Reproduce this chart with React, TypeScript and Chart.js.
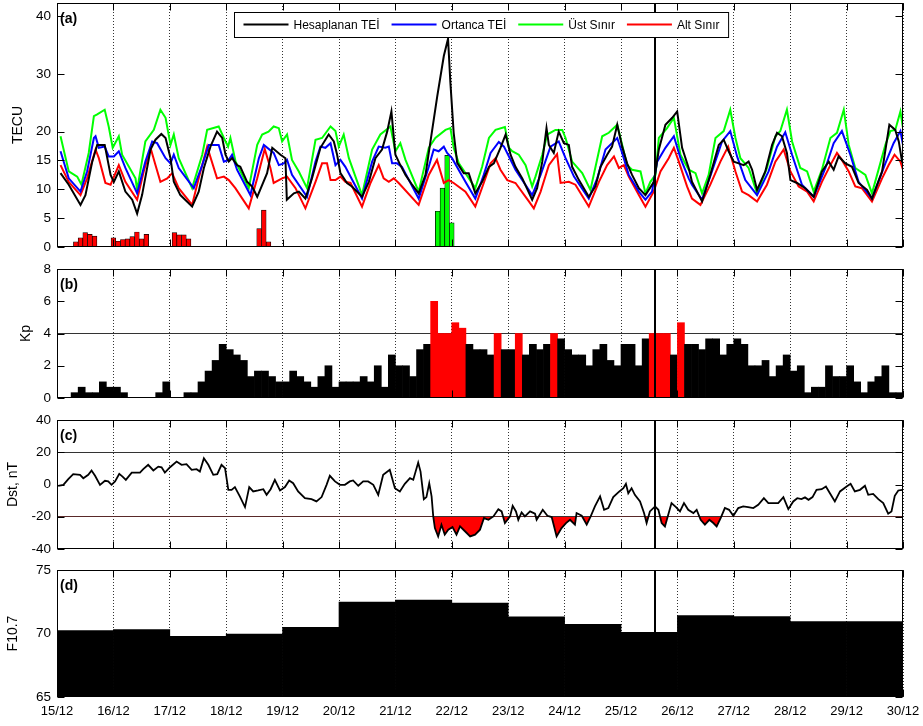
import React, { useEffect, useRef } from 'react';
import { Chart, registerables } from 'chart.js';

Chart.register(...registerables);

const FONT = '"Liberation Sans", Arial, Helvetica, sans-serif';
Chart.defaults.font.family = FONT;
Chart.defaults.color = '#000';

// ---------- shared x axis ----------
const dayLabels = ['15/12', '16/12', '17/12', '18/12', '19/12', '20/12', '21/12', '22/12', '23/12', '24/12', '25/12', '26/12', '27/12', '28/12', '29/12', '30/12'];
const hoursPerDay = 24;
const eventHour = 254.5;

// ---------- panel (a) TEC ----------
const tecTicks = [0, 5, 10, 15, 20, 30, 40];
const tecMax = 42.3;
const calcHours = [1.5, 5, 10, 12.1, 15, 17.1, 20.3, 22.8, 24.2, 26.3, 29.1, 32, 34.1, 36.2, 39.8, 41.9, 44.4, 46.2, 48.3, 49.7, 52.5, 57.5, 60.3, 62.5, 65.3, 68.1, 70.3, 71.7, 73.1, 74.5, 76.6, 78, 80.9, 83, 85.2, 89.4, 91.6, 95.1, 97.2, 97.8, 100.8, 102.9, 105.7, 108.5, 112.1, 115.6, 117.8, 119.2, 120.6, 123.4, 125.5, 129.8, 132.7, 135.5, 138.3, 140.5, 142.3, 144, 146.1, 148.3, 151.1, 153.9, 156.8, 158.2, 161.8, 164.6, 166.4, 167.4, 168.8, 170.3, 173.1, 175.2, 178, 180.9, 183.8, 185.9, 188.7, 190.9, 193, 195.1, 198, 202.2, 204.3, 206.5, 208.3, 209.3, 211.4, 213.5, 215.7, 217.8, 219.2, 222.1, 226.3, 229.1, 231.3, 234.1, 236.2, 238.4, 240.5, 242.6, 244.7, 247.6, 250.4, 254, 256.1, 258.9, 261.8, 263.9, 266, 268.8, 270.2, 274.5, 278, 281.6, 283.7, 285.8, 288, 290.1, 292.2, 294.3, 295.8, 297.9, 301.4, 304.3, 306.4, 308.5, 310.6, 312.1, 314.9, 318.4, 322, 325.5, 328.4, 330.5, 332.6, 335.5, 338.3, 341.1, 344.7, 346.8, 351.1, 354.2, 356.7, 358.2, 359.6, 360];
const calcTec = [12.8, 10.8, 7.3, 9.0, 14.8, 17.7, 17.7, 12.5, 11.3, 13.1, 9.6, 8.2, 5.8, 9.0, 16.9, 18.6, 19.6, 18.9, 15.4, 11.3, 9.0, 7.0, 9.6, 13.7, 17.4, 20.0, 18.9, 16.0, 14.8, 15.4, 14.2, 13.9, 11.3, 10.5, 8.7, 12.8, 17.2, 16.0, 15.4, 8.2, 9.3, 9.6, 8.4, 11.9, 17.2, 19.5, 18.3, 16.0, 12.8, 11.1, 10.5, 8.7, 11.3, 15.4, 16.9, 20.0, 23.5, 16.0, 14.2, 12.5, 10.8, 9.3, 12.5, 16.3, 26.1, 33.1, 36.1, 28.5, 19.8, 14.6, 12.8, 12.8, 9.3, 11.3, 13.9, 14.5, 17.2, 19.5, 16.0, 13.9, 11.9, 8.2, 10.2, 14.8, 20.6, 17.7, 16.3, 20.0, 18.0, 17.7, 13.9, 11.6, 8.7, 10.5, 13.9, 16.0, 17.4, 21.2, 17.4, 14.5, 12.5, 10.2, 9.0, 11.3, 16.9, 21.2, 22.4, 23.5, 17.2, 13.7, 11.3, 7.9, 12.5, 17.7, 18.6, 16.6, 14.8, 14.5, 14.2, 14.8, 13.4, 9.9, 13.1, 17.7, 19.8, 19.2, 16.3, 11.6, 11.1, 10.2, 8.7, 13.1, 14.8, 13.4, 15.7, 14.5, 13.9, 11.1, 9.9, 8.4, 13.1, 21.2, 20.3, 18.3, 14.8, 14.5];

const medHours = [1.5, 5, 10, 12.8, 15.7, 16.4, 17.8, 20.3, 22, 24.2, 26.3, 29.1, 34.1, 37.6, 40.5, 42.6, 46.2, 48.3, 49.7, 51.8, 58.2, 61.8, 64.6, 68.8, 71, 73.1, 74.5, 76.6, 82.3, 85.9, 88, 92.2, 94.4, 96.5, 97.9, 100, 106.4, 110, 112.1, 114.2, 116.4, 118.5, 120.6, 122.7, 129.8, 134.1, 136.9, 139.7, 141.2, 142.6, 144.7, 146.8, 153.9, 158.2, 160.3, 162.4, 164.6, 166, 168.1, 173.8, 178, 181.6, 184.5, 188, 190.2, 195.1, 202.2, 205.8, 210, 213.5, 216.4, 220, 226.3, 229.9, 233.4, 238.4, 240.5, 243.3, 247.6, 250.4, 253.2, 255.4, 258.9, 262.5, 265.3, 268.8, 270.2, 274.5, 278.7, 283, 286.5, 289.4, 292.9, 297.9, 302.8, 306.4, 309.9, 312.8, 317, 322, 327, 330.5, 334, 337.6, 341.1, 346.8, 352.5, 356, 358.9, 360];
const medTec = [16.6, 11.9, 9.6, 13.1, 18.9, 19.2, 17.2, 17.4, 15.7, 15.7, 16.6, 13.7, 9.3, 14.8, 18.3, 18.0, 15.4, 14.5, 16.0, 13.7, 10.2, 14.2, 17.7, 17.7, 14.8, 15.1, 16.0, 13.4, 9.0, 15.4, 17.7, 16.3, 14.2, 14.5, 15.1, 12.5, 8.7, 14.8, 17.4, 17.2, 18.0, 14.2, 15.1, 13.9, 8.4, 14.8, 17.4, 17.2, 17.4, 14.5, 14.5, 13.9, 8.4, 13.9, 16.9, 16.6, 17.4, 16.3, 15.4, 11.3, 8.4, 12.5, 16.3, 18.2, 17.4, 13.4, 9.0, 12.5, 17.4, 18.3, 15.4, 12.2, 8.4, 11.9, 16.9, 18.9, 16.3, 12.5, 9.6, 8.2, 9.6, 14.8, 17.2, 19.2, 15.4, 11.9, 10.8, 8.2, 13.1, 18.3, 20.1, 15.7, 11.6, 9.0, 13.1, 17.4, 19.9, 16.0, 10.8, 8.7, 13.7, 18.0, 20.1, 16.0, 11.3, 8.4, 14.5, 18.0, 20.1, 17.7];

const upperHours = [1.5, 5, 8.6, 10.4, 13.5, 15.7, 17.1, 20.3, 22, 23.7, 26.3, 27.7, 33.4, 34.1, 37.6, 41.2, 44, 46.2, 48.3, 49.7, 51.8, 57.5, 61.8, 63.9, 68.8, 71, 72.8, 73.8, 76, 81.6, 85.2, 87.3, 90, 92.2, 94.4, 95.8, 97.9, 100, 102.9, 106.4, 110, 112.8, 116.4, 118.5, 119.9, 122, 124.2, 129.8, 134.1, 137.6, 141.9, 144, 146.1, 148.3, 153.9, 158.2, 161, 165.3, 167.4, 168.8, 171, 173.8, 178, 180.9, 183.8, 186.6, 190.6, 192.3, 193.7, 196.5, 199.4, 202.2, 203.6, 206.5, 208.6, 212.1, 215, 216.4, 219.2, 223.5, 227, 232, 234.8, 238.4, 240.5, 242.6, 244.7, 248.3, 250.4, 252.5, 254.7, 256.1, 259.6, 262.5, 265.3, 268.8, 271.7, 274.5, 277.3, 280.2, 283.7, 286.5, 288.7, 290.8, 294.3, 297.9, 302.1, 305.7, 307.8, 310.6, 312.8, 316.3, 319.2, 322, 325.5, 329.1, 331.9, 334.8, 336.9, 339.7, 344, 346.8, 352.5, 354.6, 356.7, 358.9, 360];
const upperTec = [19.2, 13.1, 12.2, 10.8, 16.3, 22.7, 23.0, 23.8, 20.9, 17.2, 19.2, 16.0, 11.9, 9.9, 18.3, 20.3, 23.8, 22.4, 17.7, 19.5, 15.4, 10.2, 16.0, 20.3, 20.9, 18.9, 17.4, 18.9, 14.8, 10.2, 17.7, 19.5, 20.0, 20.9, 20.6, 18.3, 19.5, 15.1, 13.1, 10.2, 18.6, 18.9, 20.9, 20.1, 17.4, 19.5, 15.4, 9.0, 16.9, 19.5, 20.9, 16.6, 18.0, 15.1, 9.6, 17.2, 18.9, 20.3, 20.6, 17.2, 14.5, 12.8, 10.2, 13.9, 18.9, 20.3, 20.8, 17.2, 16.6, 16.0, 14.2, 10.5, 12.2, 16.0, 19.5, 20.3, 20.3, 18.9, 14.8, 12.8, 9.9, 19.2, 19.8, 21.2, 17.7, 14.2, 13.4, 13.1, 9.3, 11.3, 12.5, 18.9, 20.6, 22.4, 16.0, 13.4, 12.8, 9.3, 12.5, 18.9, 20.1, 23.8, 18.9, 15.4, 13.7, 9.3, 13.7, 19.2, 20.1, 23.8, 18.3, 13.7, 13.1, 9.6, 13.4, 18.9, 19.8, 23.8, 17.7, 13.7, 12.5, 9.3, 17.7, 20.1, 20.3, 23.5, 20.6];

const lowerHours = [1.5, 5, 10, 12.8, 16.4, 17.8, 20.6, 22.8, 26.3, 29.1, 34.1, 36.9, 39.8, 41.9, 44, 46.9, 49, 51.8, 57.5, 60.3, 63.9, 68.1, 71, 73.1, 75.9, 81.6, 85.2, 88.4, 90.8, 92.2, 95.8, 97.9, 101.5, 105.7, 110, 112.8, 114.9, 116.4, 118.5, 120.6, 122.7, 124.9, 129.8, 133.4, 136.9, 139, 141.2, 143.3, 145.4, 153.9, 158.2, 161.7, 164.6, 166.7, 168.8, 173.8, 178, 181.6, 184.5, 186.6, 188.7, 191.6, 195.1, 200.8, 202.9, 205.8, 209.3, 212.8, 214.3, 217.8, 220.6, 226.3, 230.6, 234.1, 237, 239.1, 241.2, 243.3, 247.6, 250.4, 253.9, 256.8, 260.3, 262.5, 264.6, 268.1, 270.2, 273.8, 278, 282.3, 285.6, 288.7, 291.5, 294.3, 297.9, 302.1, 305.7, 309.2, 312.1, 315.6, 319.2, 322, 325.5, 329.1, 331.9, 334, 336.9, 339.7, 342.5, 346.8, 351.1, 353.9, 356.4, 358.9, 360];
const lowerTec = [14.2, 11.3, 9.0, 11.9, 16.9, 15.4, 11.1, 10.8, 14.2, 11.3, 8.2, 13.1, 17.2, 14.2, 11.3, 11.9, 12.8, 10.2, 7.3, 11.9, 17.4, 11.9, 12.2, 11.6, 10.2, 6.7, 11.9, 17.0, 13.7, 11.1, 11.9, 12.2, 10.2, 6.7, 11.3, 14.5, 14.5, 11.6, 11.6, 12.2, 11.3, 11.1, 7.0, 11.1, 14.2, 11.9, 11.3, 11.9, 11.1, 7.3, 12.5, 15.1, 11.1, 11.6, 11.1, 9.6, 7.0, 11.1, 14.5, 15.4, 13.4, 11.6, 11.1, 7.9, 6.7, 9.6, 14.2, 16.1, 11.1, 11.3, 10.8, 7.0, 11.3, 14.2, 15.7, 13.7, 14.2, 12.2, 9.0, 7.0, 9.6, 13.1, 15.4, 17.2, 14.8, 10.5, 8.4, 7.3, 10.8, 14.8, 17.4, 13.1, 9.6, 9.0, 7.9, 10.8, 14.8, 16.9, 13.1, 10.5, 9.6, 7.9, 11.3, 14.2, 16.3, 15.1, 13.1, 10.5, 10.2, 7.9, 11.9, 14.2, 16.0, 14.8, 13.4];

const lowBarHours = [8, 10, 12, 14, 16, 24, 26, 28, 30, 32, 34, 36, 38, 50, 52, 54, 56, 86, 88, 90];
const lowBarValues = [0.9, 1.6, 2.5, 2.2, 1.9, 1.6, 1.0, 1.3, 1.4, 1.8, 2.6, 1.4, 2.2, 2.5, 2.1, 2.1, 1.4, 3.2, 6.4, 0.9];
const highBarHours = [162, 164, 166, 168];
const highBarValues = [6.2, 10.2, 15.9, 4.2];

// ---------- panel (b) Kp ----------
const kpTicks = [0, 2, 4, 6, 8];
const kpThreshold = 4;
const kpStepHours = 3;
const kpValues = [
  0, 0, 0.33, 0.67, 0.33, 0.33, 1, 0.67, 0.67, 0.33,
  0, 0, 0, 0, 0.33, 1, 0, 0, 0.33, 0.33,
  1, 1.67, 2.33, 3.33, 3, 2.67, 2.33, 1.33, 1.67, 1.67,
  1.33, 1, 1, 1.67, 1.33, 1, 0.67, 1.33, 2, 0.67,
  1, 1, 1, 1.33, 1, 2, 0.67, 2.67, 2, 2,
  1.33, 3, 3.33, 6, 4, 4, 4.67, 4.33, 3.33, 3,
  3, 2.67, 4, 3, 3, 4, 2.67, 3.33, 3, 3.33,
  4, 3.67, 3, 2.67, 2.67, 2, 3, 3.33, 2.33, 2,
  3.33, 3.33, 2, 3.67, 4, 4, 4, 2.67, 4.67, 3.33,
  3.33, 3, 3.67, 3.67, 2.67, 3.33, 3.67, 3.33, 2, 2,
  2.33, 1.33, 2, 2.67, 1.67, 2, 0.33, 0.67, 0.67, 2,
  1.33, 1.33, 2, 1, 0.33, 1, 1.33, 2, 0.33, 0.33,
];

// ---------- panel (c) Dst ----------
const dstTicks = [-40, -20, 0, 20, 40];
const dstThreshold = -20;
const dstRefLines = [20, -20];
const dstHours = [0.5, 2.7, 4.8, 6.9, 9.8, 11.2, 13.3, 14.7, 16.2, 18.3, 20.4, 21.8, 23.2, 24.7, 26.5, 27.9, 29.3, 31.8, 35.3, 36.7, 38.8, 41, 43.1, 44.5, 45.9, 48.1, 50.9, 53, 55.1, 57.3, 59.4, 60.8, 62.5, 64.4, 66.5, 68.2, 70, 71.5, 72.9, 74.3, 75.7, 77.8, 80, 81.8, 83.5, 85.6, 87.8, 89.2, 90.9, 92.7, 94.9, 97, 98.8, 100.5, 102.6, 105.5, 108.3, 110.4, 112.6, 114.7, 116.1, 118.3, 120.4, 122.5, 124.6, 126, 128.2, 130.3, 132.4, 134.6, 136.7, 138.8, 141.6, 143.8, 145.9, 148, 150.2, 151.6, 153.7, 154.7, 156.1, 157.2, 158.4, 159.4, 160.1, 160.8, 162.2, 163.6, 165, 166.5, 168.3, 170, 171.5, 173.6, 175.8, 177.9, 180, 181.7, 183.6, 185.7, 187.8, 189.2, 190.6, 192.8, 193.9, 195.3, 196.3, 197.7, 199.1, 201.3, 203.4, 204.1, 206.7, 208.7, 210.5, 212.6, 214.7, 216.6, 218.3, 220.4, 221.1, 223.3, 225.4, 227.1, 228.9, 231.1, 232.8, 234.6, 236.7, 239.3, 241, 242.1, 243.1, 244.5, 245.9, 248.1, 249.8, 250.9, 252.3, 254.5, 255.9, 257.3, 258.7, 260.1, 261.5, 263.4, 265.1, 266.8, 268.6, 270.8, 272.2, 273.9, 275.7, 277.6, 279.3, 280.7, 282.4, 284.2, 286, 287.8, 289.9, 292, 294.1, 296.3, 298.4, 300.8, 302.7, 304.8, 306.9, 309.1, 311.2, 313.3, 315, 316.8, 318.3, 319.8, 321.5, 323.2, 325.4, 327.2, 328.9, 331, 333.2, 336, 337.7, 339.5, 341.7, 343.8, 345.2, 347.3, 349.5, 351.6, 353.7, 355.1, 356.5, 358, 359.8];
const dstValues = [-0.8, -0.2, 3.3, 6.4, 6.0, 3.9, 6.0, 8.7, 5.4, -0.2, 2.3, 1.9, -0.2, 1.9, 6.6, 4.9, 2.9, 7.4, 7.4, 9.5, 12.2, 8.7, 11.1, 10.7, 7.4, 10.7, 14.2, 12.2, 12.6, 9.1, 9.5, 8.0, 16.3, 12.2, 6.0, 6.4, 12.2, 10.1, -3.3, -3.3, -1.6, -7.4, -14.0, -1.6, -4.3, -3.7, -2.9, -6.4, -2.9, 2.9, -3.7, -1.6, 2.5, 0.8, -4.3, -8.5, -9.1, -10.5, -7.8, -0.2, 5.4, 1.9, -0.2, -0.2, 1.9, 2.5, -0.8, 1.9, 1.9, -0.2, -6.4, 6.0, 9.1, -2.3, -4.3, 0.4, 3.9, 2.9, 13.6, 8.0, -9.1, -7.8, 0.8, -7.4, -19.8, -27, -32.2, -25, -31.1, -28, -26.4, -31.1, -26, -29, -32.2, -31.1, -28, -20.8, -21.9, -19.8, -15.3, -16.7, -23.9, -19.8, -13.2, -16.7, -21.9, -17.3, -19.8, -16.7, -18.1, -21.9, -15.7, -19.4, -20.2, -32.2, -27, -23.9, -21.9, -24.9, -17.7, -19.4, -24.9, -19.8, -13.6, -7.4, -15.7, -14.6, -7.8, -4.3, -2.3, 0.4, -5.4, -2.3, -6.4, -10.5, -17.7, -23.9, -16.7, -13.6, -15.7, -23.9, -26, -18.8, -11.5, -14, -16.7, -11.5, -15.7, -17.7, -15.7, -21.9, -24.9, -21.9, -23.9, -26, -20.8, -14.6, -15.7, -19.4, -14.6, -13.6, -14.0, -14.6, -12.6, -8.5, -11.5, -11.5, -11.5, -7.8, -15.3, -10.5, -8.5, -9.1, -8.0, -9.5, -7.8, -3.3, -2.9, -1.2, -5.4, -10.5, -4.3, -1.2, 0.4, -4.3, -3.3, -0.8, -6.4, -5.8, -9.1, -11.5, -18.1, -16.7, -7, -3.7, -3.3];

// ---------- panel (d) F10.7 ----------
const f107Ticks = [65, 70, 75];
const f107Daily = [70.23, 70.31, 69.77, 69.95, 70.49, 72.47, 72.63, 72.40, 71.31, 70.72, 70.10, 71.42, 71.34, 70.93, 70.93];

// ---------- helpers ----------
const xy = (xs: number[], ys: number[]) => xs.map((x, i) => ({ x, y: ys[i] }));

function drawLegend(chart: any) {
  const { ctx, chartArea: a } = chart;
  const items = chart.data.datasets.filter((d: any) => d.type === 'line');
  ctx.save();
  ctx.font = `12px ${FONT}`;
  const lineLen = 45, gapLine = 5, gapItem = 12, padL = 9, padR = 9, h = 25;
  const widths = items.map((d: any) => ctx.measureText(d.label).width);
  const total = padL + padR + widths.reduce((s: number, w: number) => s + lineLen + gapLine + w, 0) + gapItem * (items.length - 1);
  const left = Math.round(a.left + 177) + 0.5;
  const top = Math.round(a.top + 9) + 0.5;
  ctx.fillStyle = '#fff';
  ctx.fillRect(left, top, total, h);
  ctx.strokeStyle = '#000';
  ctx.lineWidth = 1;
  ctx.strokeRect(left, top, total, h);
  let x = left + padL;
  const ly = top + 12;
  items.forEach((d: any, i: number) => {
    ctx.strokeStyle = d.borderColor;
    ctx.lineWidth = 2;
    ctx.beginPath();
    ctx.moveTo(x, ly);
    ctx.lineTo(x + lineLen, ly);
    ctx.stroke();
    x += lineLen + gapLine;
    ctx.fillStyle = '#000';
    ctx.textBaseline = 'middle';
    ctx.textAlign = 'left';
    ctx.fillText(d.label, x, ly + 1.5);
    x += widths[i] + gapItem;
  });
  ctx.restore();
}

const decoPlugin = {
  id: 'deco',
  afterDatasetsDraw(chart: any) {
    const { ctx, chartArea: a } = chart;
    const x = Math.round(chart.scales.x.getPixelForValue(eventHour));
    ctx.save();
    ctx.strokeStyle = '#000';
    ctx.lineWidth = 2;
    ctx.beginPath();
    ctx.moveTo(x, a.top);
    ctx.lineTo(x, a.bottom);
    ctx.stroke();
    ctx.restore();
  },
  afterDraw(chart: any, _args: any, opts: any) {
    const { ctx, chartArea: a } = chart;
    const xs = chart.scales.x;
    const ys = chart.scales.y;
    const L = Math.round(a.left) + 0.5;
    const R = Math.round(a.right) - 0.5;
    const T = Math.round(a.top) + 0.5;
    const B = Math.round(a.bottom) - 0.5;
    const tick = 7;
    ctx.save();
    ctx.strokeStyle = '#000';
    ctx.lineWidth = 1;
    ctx.beginPath();
    xs.ticks.forEach((t: any) => {
      const px = Math.round(xs.getPixelForValue(t.value)) + 0.5;
      ctx.moveTo(px, T); ctx.lineTo(px, T + tick);
      ctx.moveTo(px, B); ctx.lineTo(px, B - tick);
    });
    ys.ticks.forEach((t: any) => {
      const py = Math.round(ys.getPixelForValue(t.value)) + 0.5;
      ctx.moveTo(L, py); ctx.lineTo(L + tick, py);
      ctx.moveTo(R, py); ctx.lineTo(R - tick, py);
    });
    ctx.stroke();
    ctx.strokeRect(L, T, R - L, B - T);
    ctx.fillStyle = '#000';
    ctx.font = `bold 14px ${FONT}`;
    ctx.textBaseline = 'middle';
    ctx.textAlign = 'left';
    ctx.fillText(opts.label, a.left + 3, a.top + 16.5);
    ctx.restore();
    if (opts.legend) drawLegend(chart);
  },
};

type Panel = {
  top: number; height: number; padTop: number; padBottom: number; xAxisHeight: number; showXLabels: boolean;
  type: string; yMin: number; yMax: number; yTicks: number[]; yTitle: string; yTitlePad: number;
  yLines: number[]; yLinesOnTop: boolean; label: string; legend: boolean; datasets: any[];
};

function buildConfig(p: Panel): any {
  return {
    type: p.type,
    data: { datasets: p.datasets },
    plugins: [decoPlugin],
    options: {
      responsive: false,
      animation: false,
      devicePixelRatio: 1,
      events: [],
      layout: { padding: { left: 0, right: 20, top: p.padTop, bottom: p.padBottom } },
      plugins: {
        legend: { display: false },
        tooltip: { enabled: false },
        deco: { label: p.label, legend: p.legend },
      },
      scales: {
        x: {
          type: 'linear',
          min: 0,
          max: (dayLabels.length - 1) * hoursPerDay,
          offset: false,
          afterBuildTicks: (s: any) => { s.ticks = dayLabels.map((_, i) => ({ value: i * hoursPerDay })); },
          afterFit: (s: any) => { s.height = p.xAxisHeight; s.paddingLeft = 0; s.paddingRight = 0; },
          ticks: {
            display: p.showXLabels,
            autoSkip: false,
            maxRotation: 0,
            padding: 7,
            color: '#000',
            font: { size: 13, family: FONT },
            callback: (_v: any, i: number) => dayLabels[i],
          },
          grid: { display: true, drawTicks: false, offset: false, color: '#333', lineWidth: 1 },
          border: { display: false, dash: [1, 2] },
        },
        y: {
          min: p.yMin,
          max: p.yMax,
          z: p.yLinesOnTop ? 1 : 0,
          afterBuildTicks: (s: any) => { s.ticks = p.yTicks.map((value) => ({ value })); },
          afterFit: (s: any) => { s.width = 57; s.paddingTop = 0; s.paddingBottom = 0; },
          ticks: { autoSkip: false, padding: 6, color: '#000', font: { size: 13.5, family: FONT } },
          grid: {
            display: p.yLines.length > 0,
            drawTicks: false,
            lineWidth: 1,
            color: (c: any) => (c.tick && p.yLines.includes(c.tick.value) ? '#333' : 'rgba(0,0,0,0)'),
          },
          border: { display: false },
          title: {
            display: true,
            text: p.yTitle,
            color: '#000',
            font: { size: 14, family: FONT },
            padding: { top: p.yTitlePad, bottom: 0 },
          },
        },
      },
    },
  };
}

const lineDs = (label: string, xs: number[], ys: number[], color: string, order: number) => ({
  type: 'line',
  label,
  data: xy(xs, ys),
  borderColor: color,
  backgroundColor: color,
  borderWidth: 2,
  pointRadius: 0,
  tension: 0,
  fill: false,
  order,
});

const barDs = (label: string, xs: number[], ys: number[], color: string) => ({
  type: 'bar',
  label,
  data: xy(xs, ys),
  backgroundColor: color,
  borderColor: '#000',
  borderWidth: 0.7,
  grouped: false,
  barPercentage: 1,
  categoryPercentage: 1,
  order: 10,
});

const panels: Panel[] = [
  {
    top: 0, height: 258, padTop: 3, padBottom: 11, xAxisHeight: 0, showXLabels: false,
    type: 'line', yMin: 0, yMax: tecMax, yTicks: tecTicks, yTitle: 'TECU', yTitlePad: 10,
    yLines: [], yLinesOnTop: false, label: '(a)', legend: true,
    datasets: [
      lineDs('Hesaplanan TEİ', calcHours, calcTec, '#000000', 1),
      lineDs('Ortanca TEİ', medHours, medTec, '#0000ff', 2),
      lineDs('Üst Sınır', upperHours, upperTec, '#00ff00', 3),
      lineDs('Alt Sınır', lowerHours, lowerTec, '#ff0000', 4),
      barDs('low', lowBarHours, lowBarValues, '#ff0000'),
      barDs('high', highBarHours, highBarValues, '#00ff00'),
    ],
  },
  {
    top: 258, height: 152, padTop: 11, padBottom: 12, xAxisHeight: 0, showXLabels: false,
    type: 'bar', yMin: 0, yMax: 8, yTicks: kpTicks, yTitle: 'Kp', yTitlePad: 18,
    yLines: [kpThreshold], yLinesOnTop: true, label: '(b)', legend: false,
    datasets: [
      {
        type: 'bar',
        label: 'Kp',
        data: kpValues.map((v, i) => ({ x: i * kpStepHours + kpStepHours / 2, y: v })),
        backgroundColor: (c: any) => ((c.raw && c.raw.y >= kpThreshold) ? '#ff0000' : '#000000'),
        borderWidth: 0,
        barPercentage: 1,
        categoryPercentage: 1,
      },
    ],
  },
  {
    top: 410, height: 150, padTop: 10, padBottom: 11, xAxisHeight: 0, showXLabels: false,
    type: 'line', yMin: -40, yMax: 40, yTicks: dstTicks, yTitle: 'Dst, nT', yTitlePad: 5,
    yLines: dstRefLines, yLinesOnTop: false, label: '(c)', legend: false,
    datasets: [
      {
        type: 'line',
        label: 'Dst',
        data: xy(dstHours, dstValues),
        borderColor: '#000000',
        backgroundColor: '#ff0000',
        borderWidth: 1.8,
        pointRadius: 0,
        tension: 0,
        fill: { target: { value: dstThreshold }, above: 'rgba(0,0,0,0)', below: '#ff0000' },
      },
    ],
  },
  {
    top: 560, height: 166, padTop: 10, padBottom: 0, xAxisHeight: 29, showXLabels: true,
    type: 'bar', yMin: 65, yMax: 75, yTicks: f107Ticks, yTitle: 'F10.7', yTitlePad: 5,
    yLines: [], yLinesOnTop: false, label: '(d)', legend: false,
    datasets: [
      {
        type: 'bar',
        label: 'F10.7',
        data: f107Daily.map((v, i) => ({ x: i * hoursPerDay + hoursPerDay / 2, y: v })),
        base: f107Ticks[0],
        backgroundColor: '#000000',
        borderWidth: 0,
        barPercentage: 1,
        categoryPercentage: 1,
      },
    ],
  },
];

export default function App() {
  const refs = useRef<(HTMLCanvasElement | null)[]>([]);
  useEffect(() => {
    const charts = panels.map((p, i) => new Chart(refs.current[i] as HTMLCanvasElement, buildConfig(p)));
    return () => charts.forEach((c) => c.destroy());
  }, []);
  return (
    <div style={{ position: 'absolute', left: 0, top: 0, width: 923, height: 726, background: '#fff', overflow: 'hidden' }}>
      {panels.map((p, i) => (
        <canvas
          key={i}
          ref={(el) => { refs.current[i] = el; }}
          width={923}
          height={p.height}
          style={{ position: 'absolute', left: 0, top: p.top, width: 923, height: p.height }}
        />
      ))}
    </div>
  );
}
